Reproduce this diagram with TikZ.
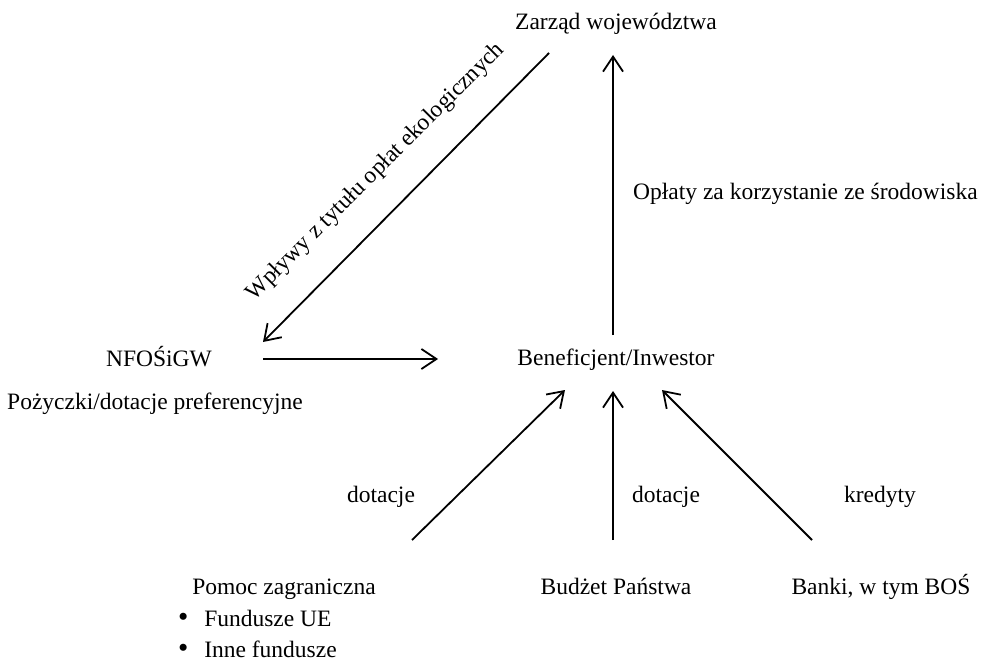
\documentclass[tikz,border=0pt]{standalone}
\usepackage{fontspec}
\setmainfont{Liberation Serif}
\usetikzlibrary{calc}
\usetikzlibrary{arrows.meta}

\tikzset{
  txt/.style={inner sep=0pt, anchor=base, font=\fontsize{23.5pt}{28pt}\selectfont},
  arr/.style={line width=1.8pt, -{Straight Barb[length=15pt,width=20pt,line width=1.8pt]}}
}

\begin{document}
\begin{tikzpicture}[x=1pt,y=-1pt]
    \useasboundingbox (0,0) rectangle (982,663);

    % wezly
    \node[txt] (zarzad) at (616,30) {Zarząd województwa};
    \node[txt] (benef) at (616,365) {Beneficjent/Inwestor};
    \node[txt] (nfos) at (159,366) {NFOŚiGW};
    \node[txt] (pozyczki) at (155,409) {Pożyczki/dotacje preferencyjne};
    \node[txt,anchor=base west] (oplaty) at (633,200) {Opłaty za korzystanie ze środowiska};
    \node[txt,rotate=45] (wplywy) at (380,176) {Wpływy z tytułu opłat ekologicznych};

    \node[txt] (pomoc) at (284,594) {Pomoc zagraniczna};
    \node[txt,anchor=base west] (fundue) at (178,626) {\scalebox{1.25}{•}\hspace{15.8pt}Fundusze UE};
    \node[txt,anchor=base west] (inne) at (178,657) {\scalebox{1.25}{•}\hspace{15.8pt}Inne fundusze};
    \node[txt] (budzet) at (616,594) {Budżet Państwa};
    \node[txt] (banki) at (881,594) {Banki, w tym BOŚ};

    \node[txt] (dot1) at (381,502) {dotacje};
    \node[txt] (dot2) at (666,502) {dotacje};
    \node[txt] (kred) at (880,502) {kredyty};

    % strzalki
    \draw[arr] ($(benef.base)+(-3,-30)$) -- ($(zarzad.base)+(-3,25)$);
    \draw[arr] ($(zarzad.base)+(-67,23)$) -- ($(nfos.base)+(104,-24)$);
    \draw[arr] ($(nfos.base)+(104,-7)$) -- ($(benef.base)+(-178,-6)$);
    \draw[arr] ($(pomoc.base)+(128,-54)$) -- ($(benef.base)+(-51,25)$);
    \draw[arr] ($(budzet.base)+(-3,-54)$) -- ($(benef.base)+(-3,26)$);
    \draw[arr] ($(banki.base)+(-69,-54)$) -- ($(benef.base)+(46,25)$);
\end{tikzpicture}
\end{document}
